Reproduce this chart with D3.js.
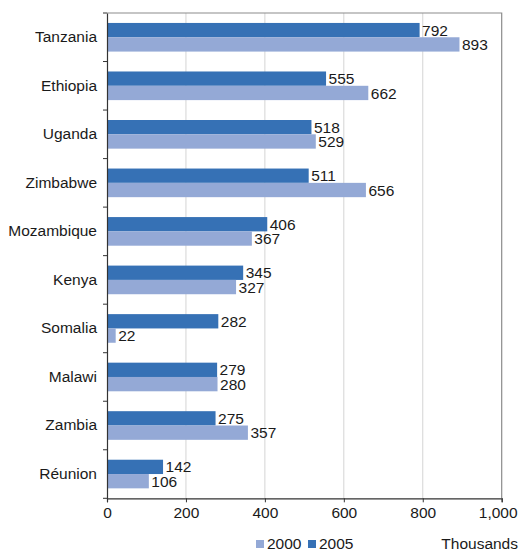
<!DOCTYPE html>
<html><head><meta charset="utf-8">
<script src="https://cdn.jsdelivr.net/npm/d3@7"></script>
<style>body{margin:0;background:#fff}svg{display:block;font-family:"Liberation Sans",Arial,sans-serif}</style>
</head><body><svg id="c" width="519" height="550"></svg>
<script>
const categories = ["Tanzania","Ethiopia","Uganda","Zimbabwe","Mozambique","Kenya","Somalia","Malawi","Zambia","Réunion"];
const values2005 = [792,555,518,511,406,345,282,279,275,142];
const values2000 = [893,662,529,656,367,327,22,280,357,106];
const xTicks = [0,200,400,600,800,1000];
const seriesNames = ["2000","2005"];
const colors = {"2000":"#94a9d6","2005":"#3671b5"};
const FS = 15.5;

const svg = d3.select("#c");
const L=107, R=501.7, T=13, B=498.3;
const x = d3.scaleLinear().domain([0,1000]).range([L,R]);
const y = d3.scaleBand().domain(categories).range([T,B]).paddingInner(0.41).paddingOuter(0.205);
const sub = d3.scaleBand().domain(["2005","2000"]).range([0,y.bandwidth()]);

svg.append("g").selectAll("line").data(xTicks.slice(1,-1)).join("line")
  .attr("x1",d=>x(d)).attr("x2",d=>x(d)).attr("y1",T).attr("y2",B)
  .attr("stroke","#d4d4d4").attr("stroke-width",1);
svg.append("path").attr("d",`M${L},${T}H${R}V${B}`).attr("fill","none").attr("stroke","#8c8c8c").attr("stroke-width",1.2);

const data = categories.map((c,i)=>({c, "2005":values2005[i], "2000":values2000[i]}));
const g = svg.append("g");
["2005","2000"].forEach(s=>{
  g.selectAll(".b"+s).data(data).join("rect")
   .attr("x",L).attr("y",d=>y(d.c)+sub(s)).attr("width",d=>x(d[s])-L).attr("height",sub.bandwidth())
   .attr("fill",colors[s]);
  g.selectAll(".t"+s).data(data).join("text")
   .attr("x",d=>x(d[s])+2.5).attr("y",d=>y(d.c)+sub(s)+sub.bandwidth()/2).attr("dy","0.36em")
   .attr("font-size",FS).attr("fill","#1a1a1a").text(d=>d[s]);
});

const xa = svg.append("g").attr("transform",`translate(0,${B})`)
  .call(d3.axisBottom(x).tickValues(xTicks).tickSize(4).tickPadding(5).tickFormat(d3.format(",")));
xa.select(".domain").attr("stroke","#333").attr("stroke-width",1.2);
xa.selectAll(".tick line").attr("stroke","#333");
xa.selectAll("text").attr("font-size",FS).attr("fill","#1a1a1a").attr("font-family","Liberation Sans, Arial, sans-serif");
xa.selectAll(".tick").filter(d=>d===1000).select("text").attr("dx",-4);

const ya = svg.append("g").attr("transform",`translate(${L},0)`)
  .call(d3.axisLeft(y).tickSize(0).tickPadding(10));
ya.select(".domain").attr("stroke","#333").attr("stroke-width",1.2);
ya.selectAll("text").attr("font-size",FS).attr("fill","#1a1a1a").attr("font-family","Liberation Sans, Arial, sans-serif");
svg.append("g").selectAll("line").data(d3.range(categories.length+1)).join("line")
  .attr("x1",L-4).attr("x2",L).attr("y1",i=>T+i*(B-T)/categories.length).attr("y2",i=>T+i*(B-T)/categories.length)
  .attr("stroke","#333");

const lg = svg.append("g");
const lx = [256,308];
seriesNames.forEach((s,i)=>{
  lg.append("rect").attr("x",lx[i]).attr("y",540).attr("width",8).attr("height",8).attr("fill",colors[s]);
  lg.append("text").attr("x",lx[i]+11).attr("y",543).attr("dy","0.36em").attr("font-size",FS).attr("fill","#1a1a1a").text(s);
});
svg.append("text").attr("x",518).attr("y",543).attr("dy","0.36em").attr("text-anchor","end").attr("font-size",FS).attr("fill","#1a1a1a").text("Thousands");
</script></body></html>
